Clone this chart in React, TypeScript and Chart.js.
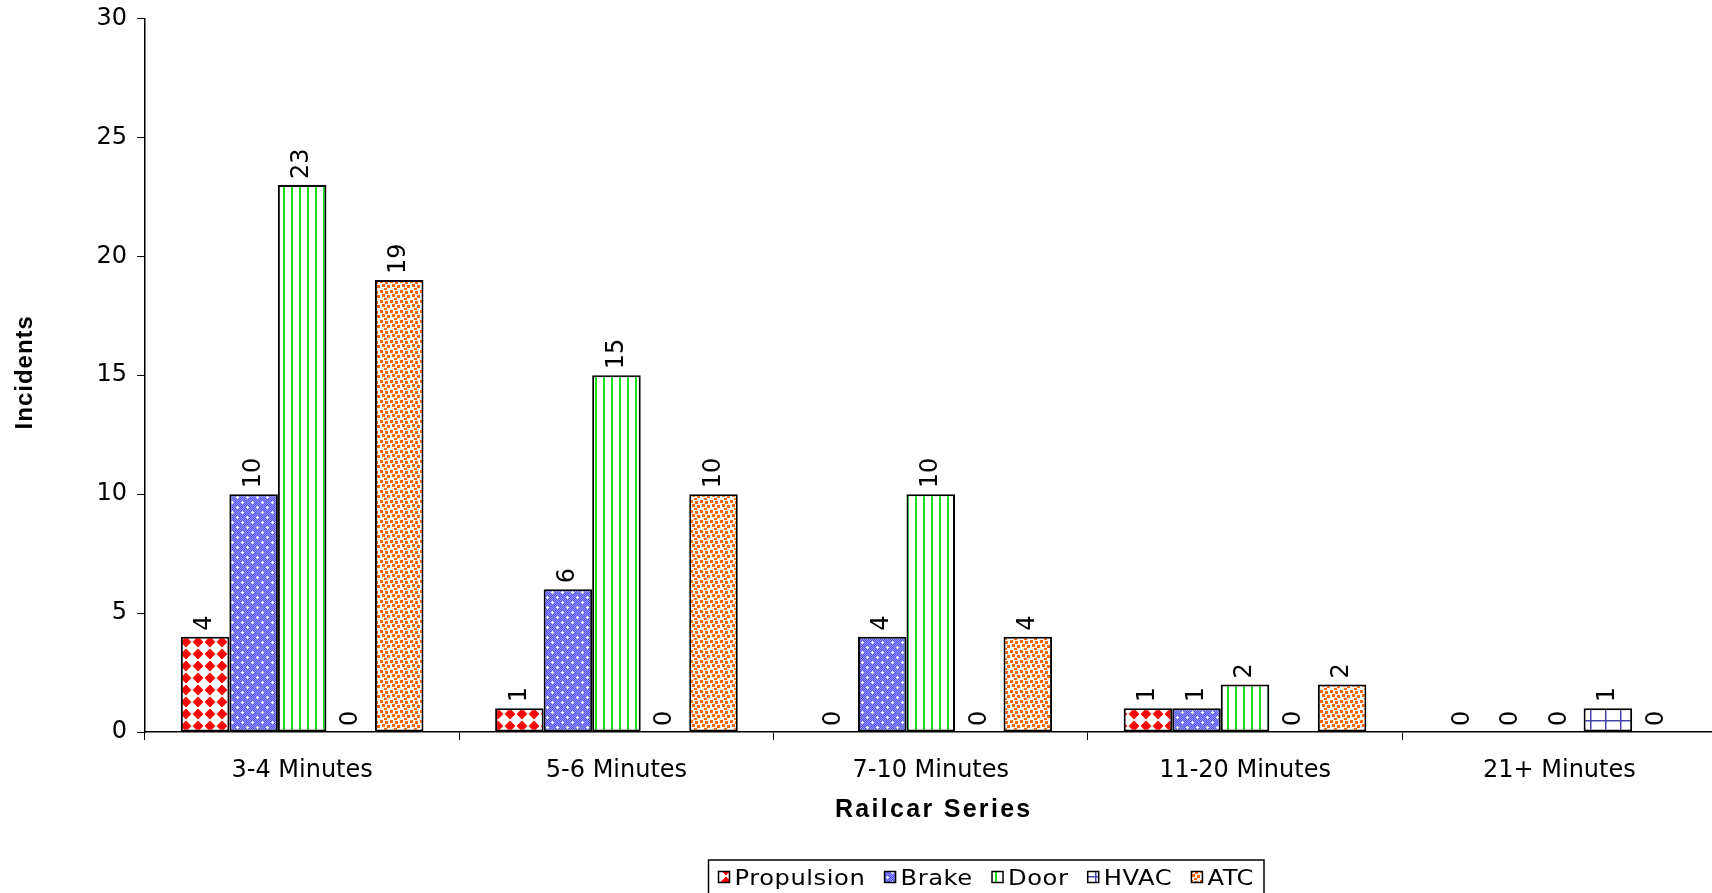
import React, { useEffect, useRef } from 'react';
import { Chart, registerables } from 'chart.js';

Chart.register(...registerables);

const categories = ['3-4 Minutes', '5-6 Minutes', '7-10 Minutes', '11-20 Minutes', '21+ Minutes'];
const seriesNames = ['Propulsion', 'Brake', 'Door', 'HVAC', 'ATC'];
const propulsion = [4, 1, 0, 1, 0];
const brake = [10, 6, 4, 1, 0];
const door = [23, 15, 10, 2, 0];
const hvac = [0, 0, 0, 0, 1];
const atc = [19, 10, 4, 2, 0];
const yTicks = [0, 5, 10, 15, 20, 25, 30];
const xTitle = 'Railcar Series';
const yTitle = 'Incidents';

const W = 1720;
const H = 893;

function makeTile(w: number, h: number, draw: (c: CanvasRenderingContext2D) => void) {
  const cv = document.createElement('canvas');
  cv.width = w;
  cv.height = h;
  const c = cv.getContext('2d') as CanvasRenderingContext2D;
  draw(c);
  return cv;
}

function makePatterns(ctx: CanvasRenderingContext2D) {
  const prop = makeTile(12, 12, (c) => {
    c.fillStyle = '#ffffff';
    c.fillRect(0, 0, 12, 12);
    c.fillStyle = '#ff0000';
    c.beginPath();
    c.moveTo(6, 0.6);
    c.lineTo(11.4, 6);
    c.lineTo(6, 11.4);
    c.lineTo(0.6, 6);
    c.closePath();
    c.fill();
  });
  const brk = makeTile(10, 10, (c) => {
    c.fillStyle = '#5252f2';
    c.fillRect(0, 0, 10, 10);
    c.fillStyle = '#9393ff';
    for (let x = 0; x < 10; x++) for (let y = 0; y < 10; y++) if ((x + y) % 2 === 0) c.fillRect(x, y, 1, 1);
    c.fillStyle = '#ffffff';
    const plus = (px: number, py: number) => {
      c.fillRect(px - 1, py, 3, 1);
      c.fillRect(px, py - 1, 1, 3);
    };
    plus(2, 2);
    plus(7, 7);
  });
  const dr = makeTile(8, 8, (c) => {
    c.fillStyle = '#ffffff';
    c.fillRect(0, 0, 8, 8);
    c.fillStyle = '#19e019';
    c.fillRect(3, 0, 2, 8);
  });
  const hv = makeTile(15, 12, (c) => {
    c.fillStyle = '#ffffff';
    c.fillRect(0, 0, 15, 12);
    c.fillStyle = '#4444aa';
    c.fillRect(0, 0, 1.5, 12);
    c.fillRect(0, 0, 15, 1.5);
  });
  const at = makeTile(10, 10, (c) => {
    c.fillStyle = '#ffffff';
    c.fillRect(0, 0, 10, 10);
    c.fillStyle = '#ff6600';
    const sq: [number, number][] = [[0, 0], [5, 1], [2, 4], [7, 5], [4, 8]];
    sq.forEach(([x, y]) => c.fillRect(x, y, 3, 3));
  });
  return [prop, brk, dr, hv, at].map((t) => ctx.createPattern(t, 'repeat') as CanvasPattern);
}

export default function App() {
  const ref = useRef<HTMLCanvasElement | null>(null);

  useEffect(() => {
    document.body.style.margin = '0';
    document.body.style.overflow = 'hidden';
    const canvas = ref.current as HTMLCanvasElement;
    const ctx = canvas.getContext('2d') as CanvasRenderingContext2D;
    const patterns = makePatterns(ctx);
    const values = [propulsion, brake, door, hvac, atc];

    const overlay = {
      id: 'overlay',
      afterDatasetsDraw(chart: any) {
        const c = chart.ctx as CanvasRenderingContext2D;
        c.save();
        c.fillStyle = '#000';
        c.font = '24px "DejaVu Sans"';
        chart.data.datasets.forEach((ds: any, i: number) => {
          const meta = chart.getDatasetMeta(i);
          meta.data.forEach((bar: any, j: number) => {
            const v = ds.data[j];
            c.save();
            c.translate(bar.x, bar.y - 6);
            c.rotate(-Math.PI / 2);
            c.textAlign = 'left';
            c.textBaseline = 'middle';
            c.fillText(String(v), 0, 0);
            c.restore();
          });
        });
        c.restore();
      },
      afterDraw(chart: any) {
        const c = chart.ctx as CanvasRenderingContext2D;
        const area = chart.chartArea;
        c.save();
        c.fillStyle = '#000';
        // x title
        c.font = 'bold 25px "Liberation Sans"';
        (c as any).letterSpacing = '2.3px';
        c.textAlign = 'center';
        c.textBaseline = 'alphabetic';
        c.fillText(xTitle, (area.left + area.right) / 2 + 3, 817);
        // y title
        (c as any).letterSpacing = '1px';
        c.font = 'bold 24px "Liberation Sans"';
        c.save();
        c.translate(32, (area.top + area.bottom) / 2 - 3);
        c.rotate(-Math.PI / 2);
        c.fillText(yTitle, 0, 0);
        c.restore();
        // legend
        const boxL = 708.5;
        const boxR = 1264;
        const boxT = 860;
        const sx = 1.1;
        (c as any).letterSpacing = '0.5px';
        c.font = '22px "DejaVu Sans"';
        const mk = 11;
        const gapT = 5;
        const padL = 10;
        const padR = 10;
        const widths = seriesNames.map((n) => c.measureText(n).width * sx);
        const sum = widths.reduce((a, b) => a + b, 0) + seriesNames.length * (mk + gapT);
        const gap = (boxR - boxL - padL - padR - sum) / (seriesNames.length - 1);
        c.lineWidth = 1.5;
        c.strokeStyle = '#000';
        c.strokeRect(boxL, boxT, boxR - boxL, 40);
        let x = boxL + padL;
        const base = 885;
        seriesNames.forEach((n, i) => {
          c.fillStyle = patterns[i];
          c.fillRect(x, base - 13.5, mk, mk);
          c.lineWidth = 1.5;
          c.strokeRect(x, base - 13.5, mk, mk);
          x += mk + gapT;
          c.fillStyle = '#000';
          c.textAlign = 'left';
          c.textBaseline = 'alphabetic';
          c.save();
          c.translate(x, base);
          c.scale(sx, 1);
          c.fillText(n, 0, 0);
          c.restore();
          x += widths[i] + gap;
        });
        c.restore();
      },
    };

    const chart = new Chart(canvas, {
      type: 'bar',
      data: {
        labels: categories,
        datasets: seriesNames.map((name, i) => ({
          label: name,
          data: values[i],
          backgroundColor: patterns[i],
          borderColor: '#000',
          borderWidth: (cx: any) => (cx.raw === 0 ? 0 : 2),
          borderSkipped: false,
          categoryPercentage: 0.772,
          barPercentage: 1,
        })),
      },
      options: {
        responsive: false,
        animation: false,
        devicePixelRatio: 1,
        layout: { padding: { left: 0, right: 3.5, top: 18.5, bottom: 0 } },
        plugins: {
          legend: { display: false },
          tooltip: { enabled: false },
          title: { display: false },
        },
        scales: {
          x: {
            grid: { display: true, drawOnChartArea: false, drawTicks: true, tickLength: 8, color: '#000', lineWidth: 1, offset: true },
            border: { display: true, color: '#000', width: 1.5 },
            ticks: { font: { family: 'DejaVu Sans', size: 24 }, color: '#000', padding: 16.5, maxRotation: 0, autoSkip: false },
            afterFit: (s: any) => {
              s.height = H - 732;
              s.paddingLeft = 0;
              s.paddingRight = 0;
            },
          },
          y: {
            min: 0,
            max: 30,
            afterBuildTicks: (s: any) => {
              s.ticks = yTicks.map((v) => ({ value: v }));
            },
            grid: { display: true, drawOnChartArea: false, drawTicks: true, tickLength: 8, color: '#000', lineWidth: 1 },
            border: { display: true, color: '#000', width: 1.5 },
            ticks: { font: { family: 'DejaVu Sans', size: 24 }, color: '#000', padding: 10 },
            afterFit: (s: any) => {
              s.width = 145;
              s.paddingTop = 0;
              s.paddingBottom = 0;
            },
          },
        },
      } as any,
      plugins: [overlay],
    });
    return () => chart.destroy();
  }, []);

  return (
    <div style={{ width: 1712, height: H, overflow: 'hidden', background: '#fff' }}>
      <canvas ref={ref} width={W} height={H} style={{ display: 'block', width: W, height: H }} />
    </div>
  );
}
